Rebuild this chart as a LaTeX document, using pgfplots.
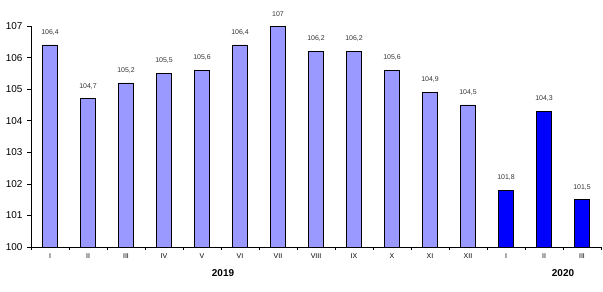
\documentclass[border=0pt]{standalone}
\usepackage{pgfplots}
\pgfplotsset{compat=1.18}
\usepackage{fontspec}
\setmainfont{Liberation Sans}
\definecolor{lightbar}{HTML}{9999FF}
\definecolor{darkbar}{HTML}{0000FF}
\begin{document}
\begin{tikzpicture}[x=1bp,y=1bp]
\path[use as bounding box] (0,0) rectangle (603,291);
\begin{axis}[
  at={(31bp,44bp)}, anchor=south west,
  scale only axis, width=570bp, height=221bp,
  xmin=-0.5, xmax=14.5, ymin=100, ymax=107,
  axis x line*=bottom, axis y line*=left,
  axis line style={black, line width=0.6pt},
  ytick={100,...,107},
  yticklabel style={font=\fontsize{10}{10}\selectfont, xshift=-1bp},
  /pgf/number format/assume math mode=true,
  xtick={0,...,14},
  xticklabels={I,II,III,IV,V,VI,VII,VIII,IX,X,XI,XII,I,II,III},
  xticklabel style={font=\fontsize{7}{7}\selectfont, yshift=1bp},
  major x tick style={draw=none},
  minor xtick={-0.5,0.5,...,14.5},
  minor tick length=3bp,
  major tick length=4bp,
  tick align=outside,
  tick style={black, line width=0.6pt},
  ybar, bar width=15bp, bar shift=0pt,
  nodes near coords,
  every node near coord/.append style={font=\fontsize{7}{7}\selectfont, color=black!80, yshift=6bp},
  /pgf/number format/.cd, use comma, fixed, precision=1,
]
\addplot[fill=lightbar, draw=black, line width=0.6pt] coordinates {
(0,106.4) (1,104.7) (2,105.2) (3,105.5) (4,105.6) (5,106.4)
(6,107) (7,106.2) (8,106.2) (9,105.6) (10,104.9) (11,104.5)};
\addplot[fill=darkbar, draw=black, line width=0.6pt] coordinates {
(12,101.8) (13,104.3) (14,101.5)};
\end{axis}
\node[font=\bfseries\fontsize{10}{10}\selectfont] at (223,18) {2019};
\node[font=\bfseries\fontsize{10}{10}\selectfont] at (563,18) {2020};
\end{tikzpicture}
\end{document}
